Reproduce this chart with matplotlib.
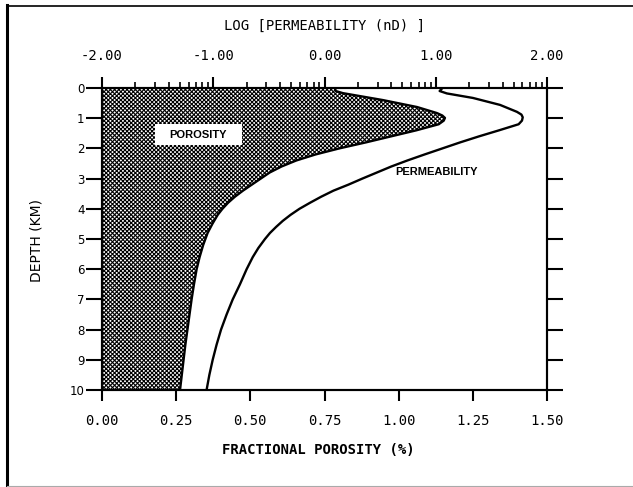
import numpy as np
import matplotlib
matplotlib.use('Agg')
import matplotlib.pyplot as plt
from matplotlib.ticker import FixedLocator, FuncFormatter, LogLocator, NullFormatter
from matplotlib.lines import Line2D
from matplotlib.patches import Rectangle

# ---------------- data ----------------
por_depth = [0.0, 0.10, 0.17, 0.40, 0.63, 0.83, 0.91, 0.99, 1.08, 1.20, 1.40, 1.60, 1.80,
             2.00, 2.20, 2.40, 2.60, 2.80, 3.00, 3.20, 3.40, 3.60, 3.80, 4.00, 4.20,
             4.50, 4.80, 5.20, 5.60, 6.00, 6.50, 7.00, 7.50, 8.00, 8.50, 9.00, 9.50, 10.0]
porosity = [0.785, 0.788, 0.812, 0.947, 1.062, 1.129, 1.147, 1.156, 1.152, 1.135, 1.060, 0.975, 0.890,
            0.800, 0.720, 0.655, 0.605, 0.565, 0.535, 0.505, 0.475, 0.448, 0.425, 0.406, 0.390,
            0.372, 0.356, 0.341, 0.329, 0.319, 0.310, 0.302, 0.295, 0.288, 0.281, 0.275, 0.269, 0.263]

perm_depth = [0.0, 0.10, 0.18, 0.33, 0.56, 0.79, 0.88, 0.97, 1.08, 1.20, 1.40, 1.60, 1.80,
              2.00, 2.20, 2.40, 2.60, 2.80, 3.00, 3.20, 3.40, 3.60, 3.80, 4.00, 4.20,
              4.40, 4.60, 4.80, 5.00, 5.30, 5.60, 6.00, 6.50, 7.00, 7.50, 8.00, 8.50,
              9.00, 9.50, 10.0]
log_perm = [1.06, 1.035, 1.10, 1.335, 1.578, 1.73, 1.77, 1.782, 1.775, 1.745, 1.57, 1.39, 1.22,
            1.06, 0.90, 0.745, 0.60, 0.47, 0.34, 0.215, 0.08, -0.03, -0.13, -0.225, -0.305,
            -0.375, -0.435, -0.49, -0.535, -0.595, -0.645, -0.70, -0.76, -0.825, -0.88, -0.93, -0.97,
            -1.005, -1.035, -1.06]

depth_ticks = list(range(0, 11))
porosity_ticks = [0.00, 0.25, 0.50, 0.75, 1.00, 1.25, 1.50]
log_perm_ticks = [-2, -1, 0, 1, 2]

# ---------------- figure ----------------
W, H = 633, 487
fig = plt.figure(figsize=(W / 100, H / 100), dpi=100)
fig.patch.set_facecolor('white')
plt.rcParams['hatch.color'] = 'black'
plt.rcParams['hatch.linewidth'] = 0.8

ax = fig.add_axes([102 / W, 1 - 390 / H, 445 / W, 302 / H])
ax.fill_betweenx(por_depth, 0, porosity, facecolor='white', edgecolor='black',
                 hatch='xxxxxxxx', linewidth=0, zorder=1)
ax.plot(porosity, por_depth, color='black', lw=1.7, zorder=3)
ax.set_xlim(0, 1.5)
ax.set_ylim(10, 0)

for s in ax.spines.values():
    s.set_linewidth(1.5)

mono = 'DejaVu Sans Mono'
ax.xaxis.set_major_locator(FixedLocator(porosity_ticks))
ax.xaxis.set_major_formatter(FuncFormatter(lambda v, p: f'{v:.2f}'))
ax.yaxis.set_major_locator(FixedLocator(depth_ticks))
ax.tick_params(axis='x', which='major', direction='out', length=8, width=1.5,
               pad=9.5, labelsize=10, top=False, bottom=True)
ax.tick_params(axis='y', which='major', direction='out', length=11.5, width=1.5,
               pad=1, labelsize=8.5, left=True, right=True, labelright=False)
for lab in ax.get_xticklabels():
    lab.set_family(mono)

# porosity label with white box
ax.add_patch(Rectangle((0.179, 1.19), 0.293, 0.70, facecolor='white', edgecolor='none', zorder=4))
ax.text(0.325, 1.54, 'POROSITY', ha='center', va='center', fontsize=8,
        family='Liberation Sans', fontweight='bold', zorder=5)
ax.text(1.129, 2.78, 'PERMEABILITY', ha='center', va='center', fontsize=8,
        family='Liberation Sans', fontweight='bold', zorder=5)

# ---------------- top log axis ----------------
ax2 = ax.twiny()
ax2.set_xscale('log')
ax2.set_xlim(1e-2, 1e2)
ax2.set_ylim(10, 0)
ax2.plot(10 ** np.array(log_perm), perm_depth, color='black', lw=1.7, zorder=3)
ax2.xaxis.set_major_locator(FixedLocator([10.0 ** t for t in log_perm_ticks]))
ax2.xaxis.set_major_formatter(FuncFormatter(lambda v, p: f'{np.log10(v):.2f}'))
ax2.xaxis.set_minor_locator(LogLocator(base=10, subs=np.arange(2, 10)))
ax2.xaxis.set_minor_formatter(NullFormatter())
ax2.tick_params(axis='x', which='major', direction='out', length=8, width=1.5,
                pad=10, labelsize=10)
ax2.tick_params(axis='x', which='minor', direction='out', length=4, width=1.2)
for lab in ax2.get_xticklabels():
    lab.set_family(mono)
for s in ax2.spines.values():
    s.set_linewidth(1.5)

# axis labels
fig.text(324 / W, 1 - 26 / H, 'LOG [PERMEABILITY (nD) ]', ha='center', va='center',
         family=mono, fontsize=10)
fig.text(318 / W, 1 - 450 / H, 'FRACTIONAL POROSITY (%)', ha='center', va='center',
         family=mono, fontsize=10, fontweight='bold')
fig.text(36 / W, 1 - 240 / H, 'DEPTH (KM)', ha='center', va='center', rotation=90,
         family='DejaVu Sans', fontsize=10)

# outer frame (scan border)
fig.add_artist(Line2D([7.5 / W, 7.5 / W], [1 - 5 / H, 1 - 486 / H], color='black', lw=2.2,
                      transform=fig.transFigure))
fig.add_artist(Line2D([7 / W, 1.0], [1 - 5.5 / H, 1 - 5.5 / H], color='black', lw=1.2,
                      transform=fig.transFigure))
fig.add_artist(Line2D([7 / W, 1.0], [1 - 486 / H, 1 - 486 / H], color='#aaaaaa', lw=0.8,
                      transform=fig.transFigure))

fig.savefig('out.png', dpi=100)
